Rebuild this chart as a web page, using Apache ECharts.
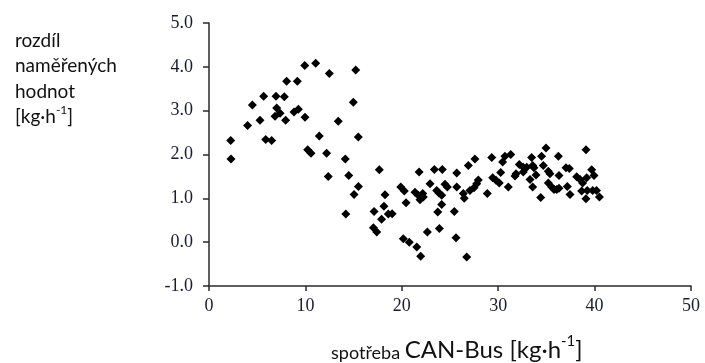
<!DOCTYPE html>
<html>
<head>
<meta charset="utf-8">
<script src="https://cdn.jsdelivr.net/npm/echarts@6/dist/echarts.min.js"></script>
<style>
  html, body { margin: 0; padding: 0; background: #fff; }
  #chart { width: 705px; height: 363px; }
</style>
</head>
<body>
<div id="chart"></div>
<script>
// Fuel consumption from CAN-Bus [kg/h]
const consumption = [
  2.25, 2.28, 4.0, 4.5, 5.29, 5.67, 5.88, 6.5, 6.95, 7.02, 6.85, 7.37, 7.81, 7.95, 8.05, 9.16,
  8.82, 9.27, 9.96, 9.93, 11.07, 12.48, 10.24, 10.58, 11.44, 12.2, 13.41, 14.14, 14.97, 15.22,
  15.49, 12.37, 14.5, 15.5, 15.05, 14.19,
  17.67, 17.12, 18.26, 18.15, 17.9, 18.6, 19.0, 17.05, 17.4, 19.89, 20.26, 20.44, 20.16, 20.77,
  21.55, 21.96, 21.8, 21.37, 21.71, 21.89, 22.23, 22.17, 22.65, 22.93, 23.38, 24.2, 23.62, 23.86,
  24.14, 24.48, 24.72, 24.14, 23.73, 23.9, 25.7, 25.7, 25.45, 25.62, 26.38, 26.48, 26.73, 26.9,
  27.59, 27.07, 27.49, 27.77, 27.94,
  28.87, 29.33, 29.43, 29.77, 30.11, 30.26, 30.46, 30.7, 31.3, 31.05, 31.74, 31.85, 32.19, 32.6,
  32.96, 32.6, 33.47, 33.58, 33.71, 34.5, 34.96, 34.68, 33.3, 33.58, 33.92, 34.41, 35.2, 35.37,
  35.2, 35.55, 35.79, 36.07, 36.31, 36.24, 36.31, 37.03, 37.38, 37.17, 37.45, 38.14, 38.49, 38.76,
  39.11, 38.66, 39.18, 39.7, 39.94, 39.24, 39.8, 40.2, 39.1, 40.5
];
// Difference of measured values [kg/h]
const difference = [
  2.32, 1.90, 2.66, 3.13, 2.78, 3.33, 2.34, 2.32, 3.33, 3.06, 2.87, 2.94, 3.32, 2.78, 3.67, 3.67,
  2.97, 3.03, 2.85, 4.03, 4.08, 3.85, 2.11, 2.03, 2.42, 2.03, 2.76, 1.90, 3.19, 3.93,
  2.40, 1.50, 1.52, 1.27, 1.09, 0.64,
  1.65, 0.70, 1.08, 0.82, 0.52, 0.64, 0.65, 0.33, 0.23, 1.26, 1.17, 0.90, 0.08, 0.00,
  -0.11, -0.32, 1.60, 1.14, 1.07, 0.97, 1.03, 1.11, 0.23, 1.33, 1.66, 1.66, 1.18, 1.12,
  1.07, 1.32, 1.26, 0.86, 0.69, 0.31, 1.58, 1.26, 0.70, 0.10, 1.11, 1.00, -0.34, 1.75,
  1.90, 1.18, 1.24, 1.33, 1.42,
  1.11, 1.93, 1.47, 1.41, 1.35, 1.59, 1.83, 1.96, 2.00, 1.26, 1.51, 1.56, 1.77, 1.71,
  1.71, 1.60, 1.93, 1.75, 1.70, 1.96, 2.15, 1.75, 1.43, 1.26, 1.53, 1.02, 1.62, 1.56,
  1.35, 1.26, 1.20, 1.20, 1.23, 1.96, 1.52, 1.70, 1.68, 1.27, 1.09, 1.49, 1.43, 1.35,
  2.11, 1.17, 1.47, 1.65, 1.52, 1.18, 1.18, 1.18, 0.99, 1.03
];

const points = consumption.map((x, i) => [x, difference[i]]);

const axisColor = '#2a2a2a';
const tickFont = { fontFamily: '"Liberation Serif", "DejaVu Serif", serif', fontSize: 18, color: '#1a1a30' };
const titleFont = '"Lato", "Open Sans", "Liberation Sans", sans-serif';

const chart = echarts.init(document.getElementById('chart'), null, { renderer: 'canvas' });
chart.setOption({
  animation: false,
  backgroundColor: '#ffffff',
  grid: { left: 209, right: 14, top: 23, bottom: 77, containLabel: false },
  xAxis: {
    type: 'value',
    min: 0, max: 50, interval: 10,
    splitLine: { show: false },
    axisLine: { onZero: false, lineStyle: { color: axisColor, width: 1.5 } },
    axisTick: { show: true, length: 5, lineStyle: { color: axisColor, width: 1.5 } },
    axisLabel: Object.assign({ margin: 11, formatter: v => String(v) }, tickFont)
  },
  yAxis: {
    type: 'value',
    min: -1, max: 5, interval: 1,
    splitLine: { show: false },
    axisLine: { show: true, onZero: false, lineStyle: { color: axisColor, width: 1.5 } },
    axisTick: { show: true, length: 6, lineStyle: { color: axisColor, width: 1.5 } },
    axisLabel: Object.assign({ margin: 16, formatter: v => v.toFixed(1) }, tickFont)
  },
  series: [{
    type: 'scatter',
    data: points,
    symbol: 'diamond',
    symbolSize: 9,
    itemStyle: { color: '#000000', opacity: 1 }
  }],
  graphic: [
    {
      type: 'text',
      left: 15, top: 28,
      style: {
        text: 'rozdíl\nnaměřených\nhodnot\n{b|[kg·h}{sup|-1}{b|]}',
        font: '19px ' + titleFont,
        fill: '#111',
        lineHeight: 25.5,
        rich: {
          b: { fontSize: 19, fontFamily: titleFont, fill: '#111', lineHeight: 25.5 },
          sup: { fontSize: 12, fontFamily: titleFont, fill: '#111', verticalAlign: 'top', lineHeight: 25.5, padding: [0, 0, 9, 0] }
        }
      }
    },
    {
      type: 'text',
      left: 331, top: 334,
      style: {
        text: '{s|spotřeba }{b|CAN-Bus [kg·h}{sup|-1}{b|]}',
        fill: '#111',
        rich: {
          s: { fontSize: 18, fontFamily: titleFont, fill: '#111', verticalAlign: 'bottom', lineHeight: 28 },
          b: { fontSize: 24, fontFamily: titleFont, fill: '#111', verticalAlign: 'bottom', lineHeight: 28 },
          sup: { fontSize: 15, fontFamily: titleFont, fill: '#111', verticalAlign: 'top', lineHeight: 28, padding: [0, 0, 12, 0] }
        }
      }
    }
  ]
});
</script>
</body>
</html>
